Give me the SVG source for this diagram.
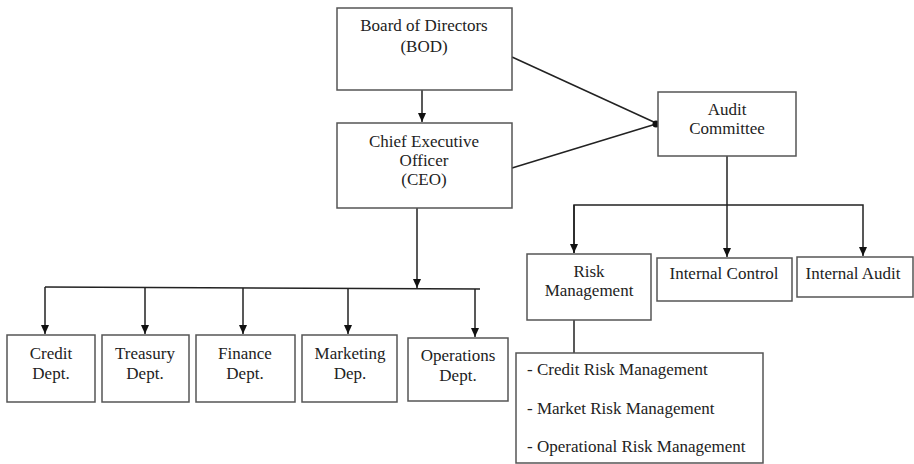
<svg xmlns="http://www.w3.org/2000/svg" width="914" height="464" viewBox="0 0 914 464">
<defs>
<marker id="arr" markerWidth="10" markerHeight="10" refX="9" refY="5" orient="auto" markerUnits="userSpaceOnUse">
<path d="M0,1 L9,5 L0,9 Z" fill="#111"/>
</marker>
<marker id="dot" markerWidth="8" markerHeight="8" refX="4" refY="4" markerUnits="userSpaceOnUse">
<circle cx="4" cy="4" r="3.5" fill="#111"/>
</marker>
</defs>
<style>
rect{fill:#fff;stroke:#555;stroke-width:1.5}
text{font-family:"Liberation Serif","Times New Roman",serif;font-size:17px;fill:#222;text-anchor:middle}
.l{text-anchor:start}
.c{fill:none;stroke:#222;stroke-width:1.5}
</style>
<rect x="0" y="0" width="914" height="464" style="stroke:none"/>
<g id="connectors">
<line class="c" x1="422" y1="90" x2="422" y2="122" marker-end="url(#arr)"/>
<line class="c" x1="512" y1="57" x2="656" y2="123"/>
<line class="c" x1="512" y1="168" x2="656" y2="124" marker-end="url(#dot)"/>
<line class="c" x1="727" y1="156" x2="727" y2="205"/>
<polyline class="c" points="574,253 574,205 863,205 863,256" marker-end="url(#arr)"/>
<line class="c" x1="574" y1="205" x2="574" y2="253" marker-end="url(#arr)"/>
<line class="c" x1="727" y1="205" x2="727" y2="257" marker-end="url(#arr)"/>
<line class="c" x1="574" y1="320" x2="574" y2="353"/>
<line class="c" x1="417" y1="208" x2="417" y2="288" marker-end="url(#arr)"/>
<line class="c" x1="45" y1="287" x2="480" y2="289"/>
<line class="c" x1="45" y1="287" x2="45" y2="334" marker-end="url(#arr)"/>
<line class="c" x1="145" y1="287" x2="145" y2="334" marker-end="url(#arr)"/>
<line class="c" x1="243" y1="288" x2="243" y2="334" marker-end="url(#arr)"/>
<line class="c" x1="348" y1="288" x2="348" y2="334" marker-end="url(#arr)"/>
<line class="c" x1="475" y1="289" x2="475" y2="337" marker-end="url(#arr)"/>
</g>
<g id="bod"><rect x="337" y="8" width="175" height="82"/><text x="424" y="31">Board of Directors</text><text x="424" y="52">(BOD)</text></g>
<g id="ceo"><rect x="337" y="123" width="175" height="85"/><text x="424" y="147">Chief Executive</text><text x="424" y="166">Officer</text><text x="424" y="185">(CEO)</text></g>
<g id="audit"><rect x="658" y="92" width="138" height="64"/><text x="727" y="115">Audit</text><text x="727" y="134">Committee</text></g>
<g id="risk"><rect x="527" y="254" width="124" height="66"/><text x="589" y="277">Risk</text><text x="589" y="296">Management</text></g>
<g id="internal-control"><rect x="657" y="258" width="135" height="43"/><text x="724" y="279">Internal Control</text></g>
<g id="internal-audit"><rect x="797" y="257" width="116" height="40"/><text x="853" y="279">Internal Audit</text></g>
<g id="risk-list"><rect x="516" y="353" width="247" height="110"/><text class="l" x="527" y="375">- Credit Risk Management</text><text class="l" x="527" y="414">- Market Risk Management</text><text class="l" x="527" y="452">- Operational Risk Management</text></g>
<g id="credit"><rect x="7" y="335" width="88" height="67"/><text x="51" y="359">Credit</text><text x="51" y="379">Dept.</text></g>
<g id="treasury"><rect x="102" y="335" width="87" height="67"/><text x="145" y="359">Treasury</text><text x="145" y="379">Dept.</text></g>
<g id="finance"><rect x="196" y="335" width="99" height="67"/><text x="245" y="359">Finance</text><text x="245" y="379">Dept.</text></g>
<g id="marketing"><rect x="302" y="335" width="95" height="67"/><text x="350" y="359">Marketing</text><text x="350" y="379">Dep.</text></g>
<g id="operations"><rect x="408" y="338" width="100" height="63"/><text x="458" y="361">Operations</text><text x="458" y="381">Dept.</text></g>
</svg>
